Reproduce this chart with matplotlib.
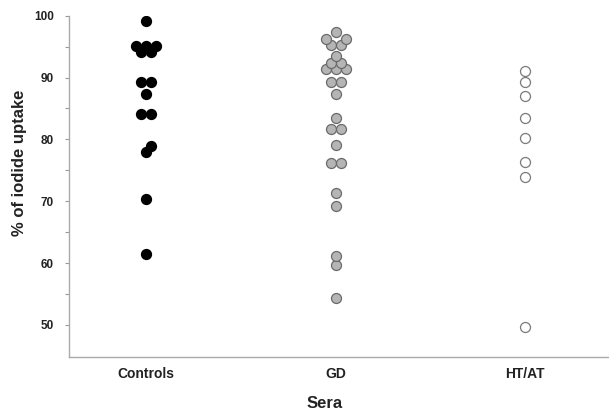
import numpy as np
import matplotlib.pyplot as plt

plt.rcParams['font.family'] = ['Liberation Sans', 'DejaVu Sans']
plt.rcParams['font.weight'] = 'bold'

# values (% of iodide uptake)
cats = ['Controls', 'GD', 'HT/AT']
controls = [99.2, 95.1, 95.1, 95.1, 94.2, 94.2, 89.2, 89.2, 87.4, 84.1, 84.1,
            78.9, 78.0, 70.3, 61.4]
gd = [97.4, 96.2, 96.2, 95.3, 95.3, 93.5, 92.3, 92.3, 91.3, 91.3, 91.3,
      89.3, 89.3, 87.3, 83.4, 81.7, 81.7, 79.1, 76.1, 76.1, 71.3, 69.3,
      61.2, 59.6, 54.4]
htat = [91.1, 89.3, 87.0, 83.4, 80.2, 76.4, 73.9, 49.6]

groups = [controls, gd, htat]
fills = ['black', '#b5b5b5', 'white']
edges = ['black', '#6a6a6a', '#7a7a7a']

fig = plt.figure(figsize=(6.09, 4.13), dpi=100)
ax = fig.add_axes([0.1133, 0.1356, 0.8867, 0.8264])
ax.set_xlim(-0.407, 2.442)
ax.set_ylim(44.8, 100)

# pixel scale of the axes, used to spread points sideways
W = fig.get_figwidth() * fig.dpi * 0.8867
H = fig.get_figheight() * fig.dpi * 0.8264
sx = W / (2.442 + 0.407)
sy = H / (100 - 44.8)

diam = 10.0  # marker diameter, px


def swarm(vals, step=diam / 2, thr=7.2):
    # tied values go out symmetrically, others take the nearest free slot
    v = np.sort(np.asarray(vals, float))
    blocks = []
    for val in v:
        if blocks and blocks[-1][0] == val:
            blocks[-1][1] += 1
        else:
            blocks.append([val, 1])
    centers = [0]
    for k in range(1, 8):
        centers += [k, -k]
    placed = []
    xs, ys = [], []
    for val, n in blocks:
        y = val * sy
        cands = [(0, sp) for sp in (2, 4, 6)] + [(c, 2) for c in centers[1:]]
        for c, sp in cands:
            slots = [c + (j - (n - 1) / 2) * sp for j in range(n)]
            ok = all(np.hypot(s * step - px, y - py) >= thr
                     for s in slots for px, py in placed)
            if ok:
                break
        for s in slots:
            placed.append((s * step, y))
            xs.append(s * step / sx)
            ys.append(val)
    return np.array(xs), np.array(ys)


for i, vals in enumerate(groups):
    dx, yv = swarm(vals)
    ax.scatter(i + dx, yv, s=(diam * 0.72) ** 2, c=fills[i], edgecolors=edges[i],
               linewidths=0.9, zorder=3)

ax.set_xticks(range(len(cats)))
ax.set_xticklabels(cats, fontsize=10, color='#222222')
ax.set_yticks(np.arange(50, 101, 10))
ax.set_yticks(np.arange(55, 100, 10), minor=True)
ax.tick_params(axis='y', which='both', direction='out', length=3, width=0.8,
               color='#999999', labelsize=8.5, labelcolor='#222222', pad=8)
ax.tick_params(axis='x', length=0, pad=7)

for s in ['top', 'right']:
    ax.spines[s].set_visible(False)
for s in ['left', 'bottom']:
    ax.spines[s].set_color('#aaaaaa')
    ax.spines[s].set_linewidth(1.0)

ax.set_ylabel('% of iodide uptake', fontsize=12, fontweight='bold', color='#222222')
ax.yaxis.set_label_coords(-0.078, 0.57)
ax.set_xlabel('Sera', fontsize=12, fontweight='bold', color='#222222')
ax.xaxis.set_label_coords(0.474, -0.114)

fig.savefig('out.png', dpi=100)
